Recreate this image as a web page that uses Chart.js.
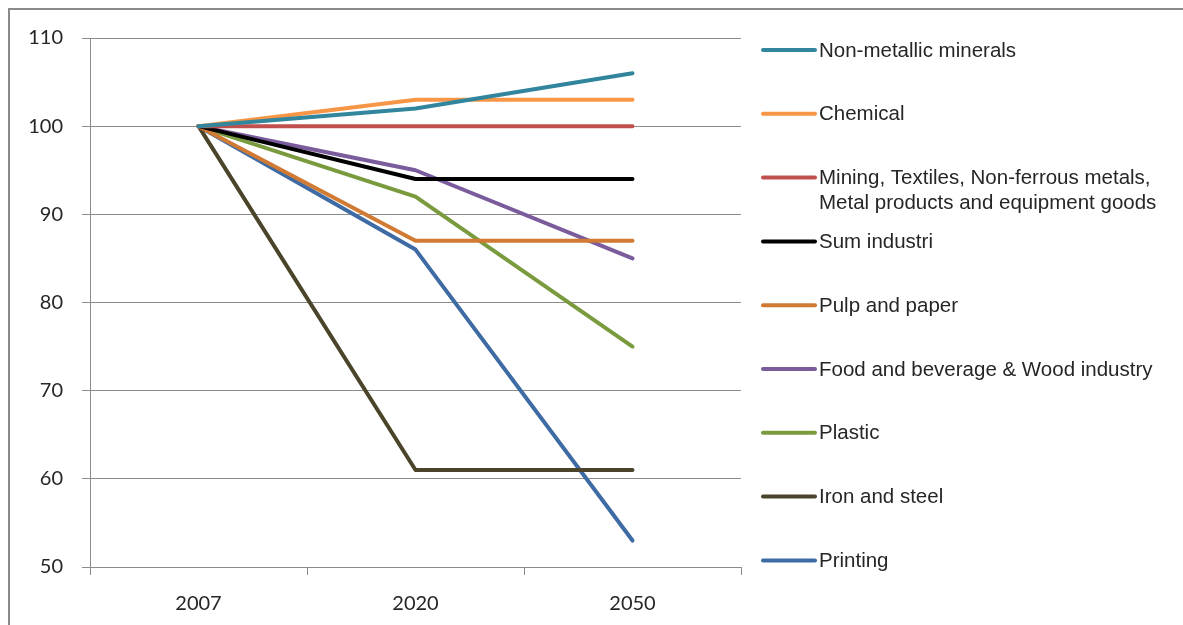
<!DOCTYPE html>
<html>
<head>
<meta charset="utf-8">
<script src="https://cdn.jsdelivr.net/npm/chart.js@4"></script>
<style>
  html, body { margin: 0; padding: 0; background: #fff; }
  #wrap { width: 1183px; height: 625px; position: relative; }
</style>
</head>
<body>
<div id="wrap"><canvas id="c" width="1183" height="625"></canvas></div>
<script>
// Years on the horizontal axis
const years = ['2007', '2020', '2050'];

// Index values per sector (2007 = 100)
const nonMetallicMinerals = [100, 102, 106];
const chemical = [100, 103, 103];
const miningTextilesMetals = [100, 100, 100];
const sumIndustri = [100, 94, 94];
const pulpAndPaper = [100, 87, 87];
const foodBeverageWood = [100, 95, 85];
const plastic = [100, 92, 75];
const ironAndSteel = [100, 61, 61];
const printing = [100, 86, 53];

// Series names (multi-line where the legend wraps)
const seriesNames = [
  ['Non-metallic minerals'],
  ['Chemical'],
  ['Mining, Textiles, Non-ferrous metals,', 'Metal products and equipment goods'],
  ['Sum industri'],
  ['Pulp and paper'],
  ['Food and beverage & Wood industry'],
  ['Plastic'],
  ['Iron and steel'],
  ['Printing']
];
const seriesValues = [
  nonMetallicMinerals, chemical, miningTextilesMetals, sumIndustri,
  pulpAndPaper, foodBeverageWood, plastic, ironAndSteel, printing
];
const seriesColors = [
  '#31859C', '#F79646', '#C0504D', '#000000',
  '#D07A34', '#7A5C9C', '#7A9A3E', '#4A452A', '#3E6BA3'
];

// Y axis tick range
const yMin = 50, yMax = 110, yStep = 10;

const datasets = seriesValues.map((vals, i) => ({
  label: seriesNames[i].join(' '),
  data: vals,
  borderColor: seriesColors[i],
  backgroundColor: seriesColors[i],
  borderWidth: 4,
  pointRadius: 0,
  tension: 0,
  fill: false,
  borderCapStyle: 'round',
  borderJoinStyle: 'round',
  order: i
}));

const AXIS_GRAY = '#8C8C8C';
const TICK_FONT = { family: 'Lato, "Open Sans", sans-serif', size: 20 };

// Frame around the whole chart and white background
const framePlugin = {
  id: 'frame',
  beforeDraw(chart) {
    const ctx = chart.ctx;
    ctx.save();
    ctx.fillStyle = '#fff';
    ctx.fillRect(0, 0, chart.width, chart.height);
    ctx.strokeStyle = '#8A8A8A';
    ctx.lineWidth = 2;
    ctx.strokeRect(9, 9, chart.width + 50, chart.height + 50);
    ctx.restore();
  }
};

// Legend on the right with evenly spaced entries
const sideLegend = {
  id: 'sideLegend',
  afterDraw(chart) {
    const ctx = chart.ctx;
    const x0 = chart.chartArea.right + 22;
    const lineLen = 52;
    const top = 50;
    const gap = 63.8;
    ctx.save();
    ctx.font = '20.5px "Liberation Sans", Arial, sans-serif';
    ctx.textBaseline = 'middle';
    ctx.textAlign = 'left';
    chart.data.datasets.forEach((ds, i) => {
      const y = top + i * gap;
      ctx.strokeStyle = ds.borderColor;
      ctx.lineWidth = 4;
      ctx.lineCap = 'round';
      ctx.beginPath();
      ctx.moveTo(x0, y);
      ctx.lineTo(x0 + lineLen, y);
      ctx.stroke();
      ctx.fillStyle = '#262626';
      seriesNames[i].forEach((line, k) => {
        ctx.fillText(line, x0 + lineLen + 4, y + 1 + k * 25);
      });
    });
    ctx.restore();
  }
};

new Chart(document.getElementById('c'), {
  type: 'line',
  data: { labels: years, datasets },
  options: {
    responsive: false,
    animation: false,
    layout: { padding: { left: 0, right: 442, top: 38, bottom: 0 } },
    plugins: {
      legend: { display: false },
      tooltip: { enabled: false }
    },
    scales: {
      x: {
        offset: true,
        afterFit(scale) { scale.height = 58; },
        grid: {
          offset: true,
          drawOnChartArea: false,
          drawTicks: true,
          tickLength: 8,
          color: AXIS_GRAY,
          lineWidth: 1
        },
        border: { color: AXIS_GRAY, width: 1 },
        ticks: { color: '#262626', font: TICK_FONT, padding: 17 }
      },
      y: {
        min: yMin,
        max: yMax,
        afterFit(scale) { scale.width = 90; },
        grid: {
          color: AXIS_GRAY,
          lineWidth: 1,
          drawTicks: true,
          tickLength: 8
        },
        border: { color: AXIS_GRAY, width: 1 },
        ticks: { stepSize: yStep, color: '#262626', font: TICK_FONT, padding: 19 }
      }
    }
  },
  plugins: [framePlugin, sideLegend]
});
</script>
</body>
</html>
